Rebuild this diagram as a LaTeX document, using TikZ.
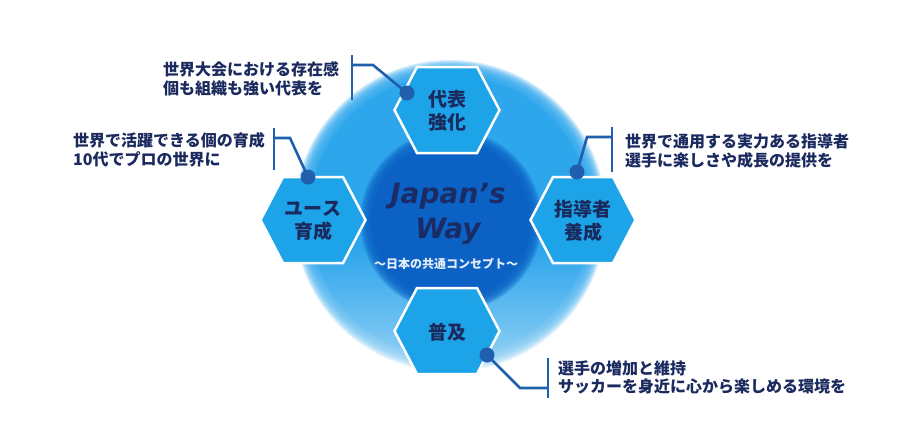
\documentclass[tikz,border=0pt]{standalone}
\usepackage{fontspec}
\setmainfont{DejaVu Sans}
\newfontfamily\cjk{Noto Sans CJK JP}
\newfontfamily\jwfont{DejaVu Sans}
\usetikzlibrary{fadings}
\definecolor{navy}{HTML}{1B2A5E}
\definecolor{jwnavy}{HTML}{1A2B66}
\definecolor{hexfill}{HTML}{1CA3E8}
\definecolor{ringblue}{HTML}{2EA6EC}
\definecolor{coreblue}{HTML}{0B62C4}
\definecolor{linkblue}{HTML}{1F5FAE}
\definecolor{subtext}{HTML}{E4EEFA}
\pgfdeclareverticalshading{lowfadesh}{100bp}{color(0bp)=(white); color(12bp)=(white!92!black); color(23bp)=(white!62!black); color(33bp)=(white!30!black); color(45bp)=(black); color(100bp)=(black)}
\pgfdeclarefading{lowfade}{\pgfuseshading{lowfadesh}}
\tikzset{
  hexsty/.style={fill=hexfill, draw=white, line width=2.5pt, line join=miter},
  hexa/.pic={\path[hexsty] (-52.5,0) -- (-30,-43) -- (30,-43) -- (52.5,0) -- (30,43) -- (-30,43) -- cycle;},
  hextext/.style={font=\cjk\bfseries\fontsize{19}{23}\selectfont, text=navy, align=center, inner sep=0pt},
  note/.style={font=\cjk\bfseries\fontsize{16}{18.5}\selectfont, text=navy, align=left, inner sep=0pt, anchor=west},
  dot/.style={circle, fill=linkblue, minimum size=15pt, inner sep=0pt},
  link/.style={draw=linkblue, line width=2.6pt},
}
\begin{document}
\begin{tikzpicture}[x=1pt, y=-1pt]
\useasboundingbox (0,0) rectangle (902,426);
% outer glow with soft edge
\coordinate (ctr) at (450,216);
\fill[ringblue] (ctr) circle (141);
\foreach \r in {142,143,...,156} {\fill[ringblue, opacity=0.18] (ctr) circle (\r);}
% fade of the lower part
\fill[white, path fading=lowfade] (ctr) circle (158);
% dark core with soft edge
\coordinate (core) at (451,221);
\fill[coreblue] (core) circle (79);
\foreach \r in {80,81,...,91} {\fill[coreblue, opacity=0.2] (core) circle (\r);}
% hexagons
\pic at (447,110) {hexa};
\pic at (313,220) {hexa};
\pic at (583,220) {hexa};
\pic at (447,331) {hexa};
\node[hextext] (hT) at (447,111) {代表\\強化};
\node[hextext] (hL) at (313,221) {ユース\\育成};
\node[hextext] (hR) at (583,221) {指導者\\養成};
\node[hextext] (hB) at (447,332) {普及};
% center text
\node[font=\jwfont\bfseries\itshape\fontsize{28}{35}\selectfont, text=jwnavy, align=center, inner sep=0pt] (jw) at (448,214) {Japan’s\\Way};
\node[font=\cjk\bfseries\fontsize{12}{14}\selectfont, text=subtext, inner sep=0pt] (sub) at (446,264) {～日本の共通コンセプト～};
% top annotation
\node[dot] (dT) at (407,93) {};
\coordinate (kT) at (373,65);
\coordinate (bT) at (352,65);
\coordinate (bT1) at (352,55);
\coordinate (bT2) at (352,100);
\draw[link] (dT.center) -- (kT) -- (bT);
\draw[link] (bT1) -- (bT2);
\node[note] (aT) at (163,79) {世界大会における存在感\\個も組織も強い代表を};
% left annotation
\node[dot] (dL) at (308,177) {};
\coordinate (kL) at (290,138);
\coordinate (bL) at (274,138);
\coordinate (bL1) at (274,128);
\coordinate (bL2) at (274,170);
\draw[link] (dL.center) -- (kL) -- (bL);
\draw[link] (bL1) -- (bL2);
\node[note] (aL) at (73,150) {世界で活躍できる個の育成\\10代でプロの世界に};
% right annotation
\node[dot] (dR) at (577,172) {};
\coordinate (kR) at (587,137);
\coordinate (bR) at (612,137);
\coordinate (bR1) at (612,127);
\coordinate (bR2) at (612,172);
\draw[link] (dR.center) -- (kR) -- (bR);
\draw[link] (bR1) -- (bR2);
\node[note] (aR) at (625,151) {世界で通用する実力ある指導者\\選手に楽しさや成長の提供を};
% bottom annotation
\node[dot] (dB) at (487,355) {};
\coordinate (kB) at (520,388);
\coordinate (bB) at (548,388);
\coordinate (bB1) at (548,358);
\coordinate (bB2) at (548,398);
\draw[link] (dB.center) -- (kB) -- (bB);
\draw[link] (bB1) -- (bB2);
\node[note] (aB) at (558,377.5) {選手の増加と維持\\サッカーを身近に心から楽しめる環境を};
\end{tikzpicture}
\end{document}
